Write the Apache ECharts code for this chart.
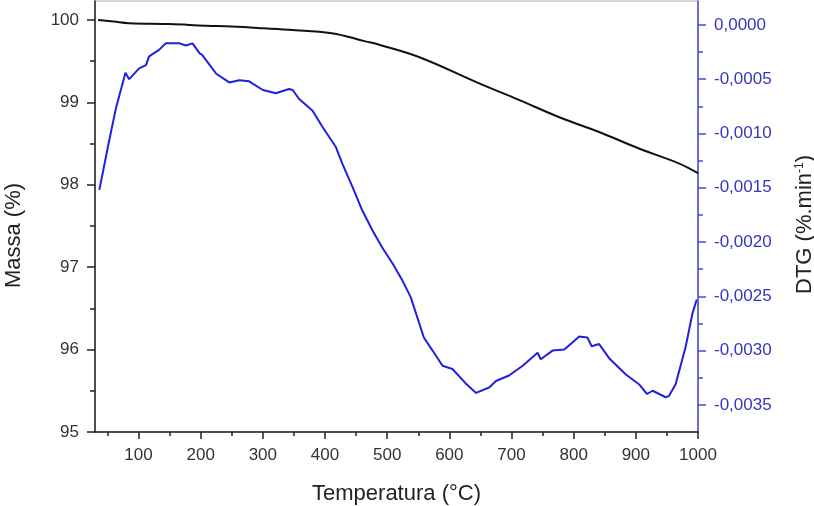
<!DOCTYPE html>
<html>
<head>
<meta charset="utf-8">
<script src="https://cdn.jsdelivr.net/npm/echarts@6/dist/echarts.min.js"></script>
<style>
html,body{margin:0;padding:0;background:#fff;}
#chart{width:814px;height:506px;}
</style>
</head>
<body>
<div id="chart"></div>
<script>
// Mass curve (black, left axis)
var massTemps = [35, 60, 85, 150, 208, 250, 300, 342, 411, 465, 487, 551, 648, 712, 777, 841, 905, 969, 1000];
var massValues = [100.00, 99.98, 99.96, 99.95, 99.93, 99.92, 99.90, 99.88, 99.84, 99.74, 99.70, 99.55, 99.23, 99.03, 98.82, 98.64, 98.44, 98.26, 98.14];

// DTG curve (blue, right axis)
var dtgTemps = [37, 53, 64, 79, 85, 101, 112, 117, 133, 144, 166, 176, 187, 198, 203, 225, 246, 262, 278, 300, 321, 342, 348, 358, 380, 396, 417, 428, 444, 460, 476, 492, 509, 525, 538, 559, 573, 589, 605, 626, 643, 664, 675, 696, 718, 742, 747, 766, 785, 809, 822, 829, 841, 857, 884, 905, 918, 927, 948, 953, 964, 980, 991, 998];
var dtgValues = [-0.00152, -0.00106, -0.00076, -0.00044, -0.00050, -0.00040, -0.00037, -0.00029, -0.00023, -0.00017, -0.00017, -0.00019, -0.00017, -0.00026, -0.00028, -0.00045, -0.00053, -0.00051, -0.00052, -0.00060, -0.00063, -0.00059, -0.00060, -0.00068, -0.00079, -0.00094, -0.00112, -0.00128, -0.00149, -0.00171, -0.00189, -0.00205, -0.00220, -0.00236, -0.00251, -0.00288, -0.00300, -0.00314, -0.00317, -0.00330, -0.00339, -0.00334, -0.00328, -0.00323, -0.00314, -0.00302, -0.00308, -0.00300, -0.00299, -0.00287, -0.00288, -0.00296, -0.00294, -0.00307, -0.00322, -0.00331, -0.00340, -0.00337, -0.00343, -0.00342, -0.00331, -0.00297, -0.00266, -0.00253];

// Tick labels
var xTicks = [100, 200, 300, 400, 500, 600, 700, 800, 900, 1000];
var xMinorTicks = [50, 150, 250, 350, 450, 550, 650, 750, 850, 950];
var massTicks = [95, 96, 97, 98, 99, 100];
var dtgTicks = [0, -0.0005, -0.0010, -0.0015, -0.0020, -0.0025, -0.0030, -0.0035];
var dtgMinorTicks = [-0.00025, -0.00075, -0.00125, -0.00175, -0.00225, -0.00275, -0.00325];

function zip(a, b) { return a.map(function (v, i) { return [v, b[i]]; }); }

var FONT = '"Liberation Sans", Arial, sans-serif';
var BLUE_AXIS = '#4a4ad8';
var BLUE_TEXT = '#3636c0';
var DARK = '#222';

var chart = echarts.init(document.getElementById('chart'));
chart.setOption({
  backgroundColor: '#fff',
  animation: false,
  grid: { left: 95, right: 116, top: 1, bottom: 74, show: true, borderColor: '#aaa', borderWidth: 1,
          containLabel: false, outerBoundsMode: 'none' },
  xAxis: [{
    type: 'value', min: 30, max: 1000, position: 'bottom',
    name: 'Temperatura (°C)', nameLocation: 'middle', nameGap: 51,
    nameTextStyle: { fontFamily: FONT, fontSize: 22, color: DARK },
    axisLine: { show: true, onZero: false, lineStyle: { color: DARK, width: 1.5 } },
    axisTick: { show: true, inside: false, length: 7, customValues: xTicks, lineStyle: { color: DARK, width: 1.5 } },
    axisLabel: { show: true, customValues: xTicks, margin: 15, fontFamily: FONT, fontSize: 17, color: '#333',
      formatter: function (v) { return String(v); } },
    splitLine: { show: false }
  }, {
    type: 'value', min: 30, max: 1000, position: 'bottom',
    axisLine: { show: false, onZero: false },
    axisTick: { show: true, inside: false, length: 4, customValues: xMinorTicks, lineStyle: { color: DARK, width: 1.5 } },
    axisLabel: { show: false },
    splitLine: { show: false }
  }],
  yAxis: [{
    type: 'value', min: 95, max: 100.23, interval: 1, position: 'left',
    name: 'Massa (%)', nameLocation: 'middle', nameGap: 70, nameRotate: 90,
    nameTextStyle: { fontFamily: FONT, fontSize: 22, color: DARK, padding: [0, 38, 0, 0] },
    axisLine: { show: true, onZero: false, lineStyle: { color: DARK, width: 1.5 } },
    axisTick: { show: true, inside: false, length: 8, customValues: massTicks, lineStyle: { color: DARK, width: 1.5 } },
    minorTick: { show: true, splitNumber: 2, length: 5, lineStyle: { color: DARK, width: 1.5 } },
    axisLabel: { show: true, customValues: massTicks, margin: 16, fontFamily: FONT, fontSize: 17, color: '#333' },
    splitLine: { show: false }, minorSplitLine: { show: false }
  }, {
    type: 'value', min: -0.00375, max: 0.00022, position: 'right',
    name: 'DTG (%.min{sup|-1})', nameLocation: 'middle', nameGap: 96, nameRotate: 90,
    nameTextStyle: { fontFamily: FONT, fontSize: 22, color: DARK, padding: [0, 16, 0, 0],
      rich: { sup: { fontFamily: FONT, fontSize: 12, color: DARK, verticalAlign: 'top' } } },
    axisLine: { show: true, onZero: false, lineStyle: { color: BLUE_AXIS, width: 1.5 } },
    axisTick: { show: true, inside: false, length: 8, customValues: dtgTicks, lineStyle: { color: BLUE_AXIS, width: 1.5 } },
    axisLabel: { show: true, customValues: dtgTicks, margin: 16, fontFamily: FONT, fontSize: 17, color: BLUE_TEXT,
      formatter: function (v) { var s = Math.abs(v).toFixed(4).replace('.', ','); return (v < -1e-9 ? '-' : '') + s; } },
    splitLine: { show: false }
  }, {
    type: 'value', min: -0.00375, max: 0.00022, position: 'right',
    axisLine: { show: false, onZero: false },
    axisTick: { show: true, inside: false, length: 5, customValues: dtgMinorTicks, lineStyle: { color: BLUE_AXIS, width: 1.5 } },
    axisLabel: { show: false },
    splitLine: { show: false }
  }],
  series: [{
    type: 'line', xAxisIndex: 0, yAxisIndex: 0, data: zip(massTemps, massValues),
    showSymbol: false, smooth: 0.4, lineStyle: { color: '#111', width: 2 }, itemStyle: { color: '#111' }
  }, {
    type: 'line', xAxisIndex: 0, yAxisIndex: 1, data: zip(dtgTemps, dtgValues),
    showSymbol: false, smooth: false, lineStyle: { color: '#2020dd', width: 2 }, itemStyle: { color: '#2020dd' }
  }]
});
</script>
</body>
</html>
